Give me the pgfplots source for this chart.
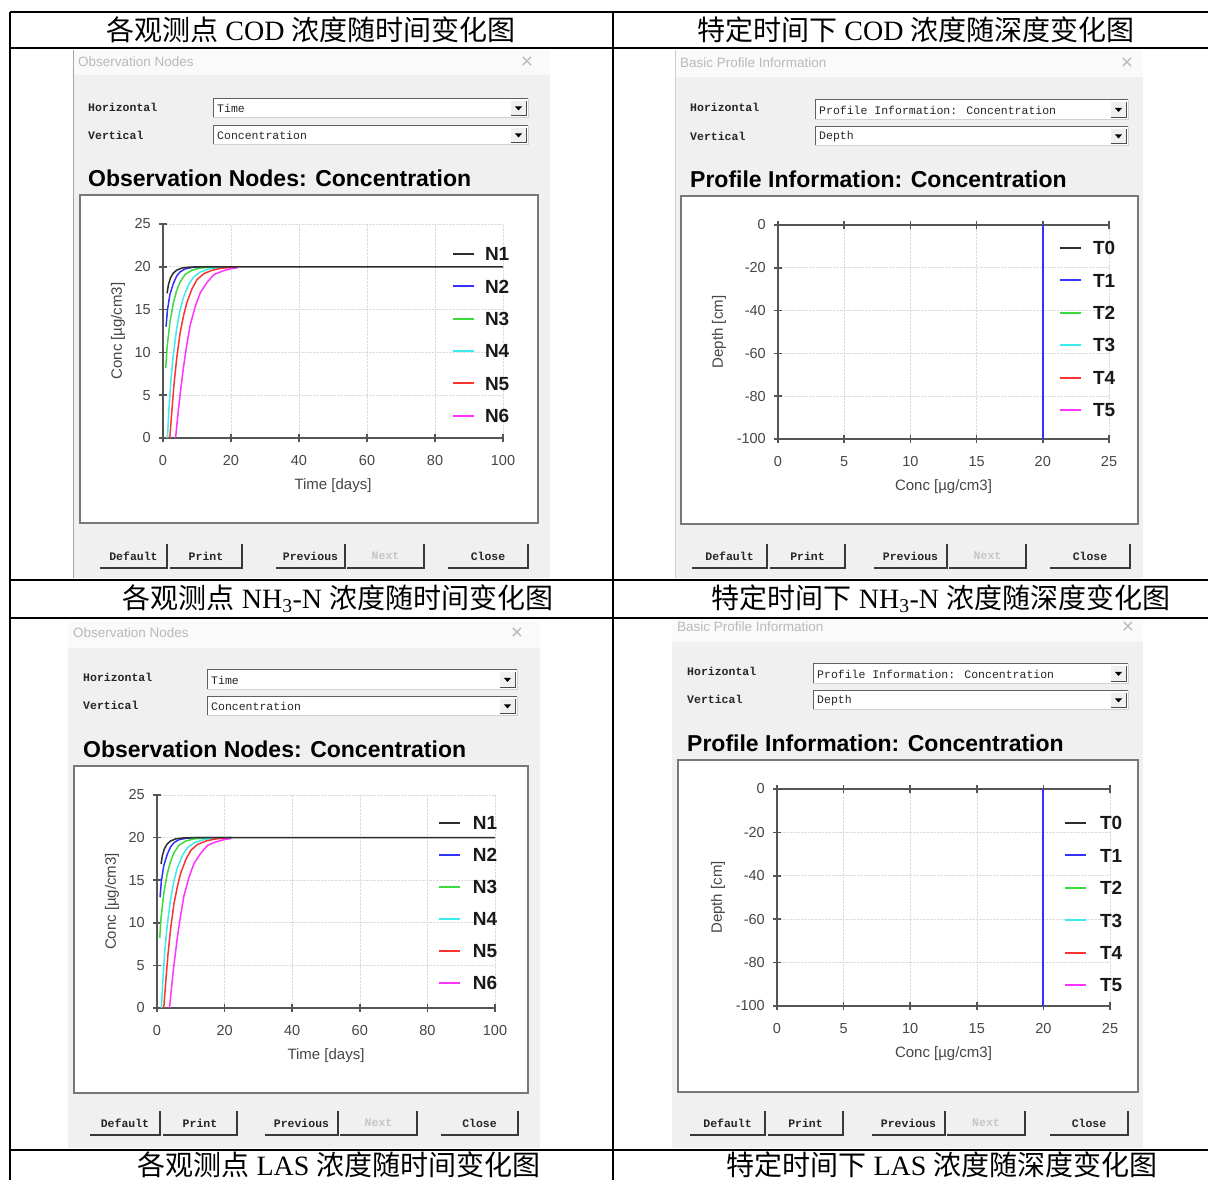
\documentclass[border=0pt]{standalone}
\usepackage{fontspec}
\usepackage{pgfplots}
\usepackage{pgfplotstable}
\pgfplotsset{compat=1.18}
\setmainfont{Liberation Serif}
\newfontfamily\cjk{Noto Sans CJK SC}
\newfontfamily\arial{Liberation Sans}
\newfontfamily\mono{Liberation Mono}
\newcommand\fs[1]{\fontsize{#1}{#1}\selectfont}

\definecolor{panel}{RGB}{240,240,240}
\definecolor{tbar}{RGB}{250,250,250}
\definecolor{axgray}{RGB}{85,85,85}
\definecolor{tickgray}{RGB}{70,70,70}
\definecolor{boxgray}{RGB}{120,120,120}
\definecolor{cN1}{RGB}{45,45,45}
\definecolor{cN2}{RGB}{50,50,255}
\definecolor{cN3}{RGB}{60,220,60}
\definecolor{cN4}{RGB}{60,235,235}
\definecolor{cN5}{RGB}{255,50,50}
\definecolor{cN6}{RGB}{255,50,255}

% ---------- data: concentration vs time at observation nodes ----------
\pgfplotstableread{
t c
1.2 16.9
1.6 17.9
2.2 18.7
3.0 19.25
4.0 19.6
5.5 19.85
8.0 19.97
12 20
100 20
}\tNa
\pgfplotstableread{
t c
0.9 13.0
1.3 14.9
2.0 16.7
3.0 18.0
4.0 18.9
5.0 19.4
6.5 19.75
8.5 19.92
12 20
22 20
}\tNb
\pgfplotstableread{
t c
0.8 8.2
1.2 10.6
2.0 13.4
3.0 15.7
4.0 17.2
5.0 18.2
6.5 19.1
8.5 19.6
11 19.85
15 19.97
22 20
}\tNc
\pgfplotstableread{
t c
1.3 0
1.7 3.0
2.3 6.6
3.0 9.6
4.0 12.7
5.0 14.9
6.0 16.4
7.5 17.9
9.0 18.8
11 19.4
14 19.8
18 19.95
22 20
}\tNd
\pgfplotstableread{
t c
2.0 0
2.5 2.6
3.2 6.1
4.0 9.2
5.0 12.2
6.0 14.2
7.0 15.8
8.5 17.4
10 18.5
12 19.2
14.5 19.6
17 19.82
20 19.94
22 20
}\tNe
\pgfplotstableread{
t c
3.7 0
4.3 2.4
5.0 5.0
6.0 8.2
7.0 10.9
8.0 13.2
9.5 15.4
11 17.0
13 18.2
15 19.1
17.5 19.5
20 19.78
22 19.9
}\tNf
% ---------- data: profile (concentration vs depth) ----------
\pgfplotstableread{
c d
20 0
20 -100
}\tProf

\pgfplotsset{
  xlab/.style={every axis x label/.style={at={(axis description cs:0.5,0)}, anchor=center, yshift=-48pt,
      font=\arial\fs{15}, text=tickgray}},
  ylab/.style={every axis y label/.style={at={(axis description cs:0,0.5)}, xshift=#1, rotate=90, anchor=center,
      font=\arial\fs{15}, text=tickgray}},
  hyd/.style={
    scale only axis, anchor=south west,
    axis line style={draw=axgray, line width=1.6pt, -},
    tick style={draw=axgray, line width=1.6pt},
    major tick length=8pt, tick align=center,
    grid=major, grid style={densely dotted, gray!28, line width=0.6pt},
    /pgf/number format/assume math mode=true,
    ticklabel style={font=\arial\fs{14.5}, text=tickgray, inner sep=0pt},
    xticklabel style={yshift=-13pt},
    yticklabel style={xshift=-8pt},
    legend image code/.code={\draw[##1, line width=2pt] (0pt,0pt) -- (21pt,0pt);},
    legend cell align=left,
    every axis plot/.append style={line width=1.5pt},
  },
  timeax/.style={hyd, xmin=0, xmax=100, ymin=0, ymax=25,
    xtick={0,20,...,100}, ytick={0,5,...,25},
    axis x line*=bottom, axis y line*=left, xtick pos=lower, ytick pos=left,
    xlabel={Time [days]}, ylabel={Conc [µg/cm3]}, xlab, ylab=-45pt},
  profax/.style={hyd, xmin=0, xmax=25, ymin=-100, ymax=0,
    xtick={0,5,...,25}, ytick={-100,-80,...,0},
    axis x line=box, axis y line*=left, ytick pos=left,
    xlabel={Conc [µg/cm3]}, ylabel={Depth [cm]}, xlab, ylab=-59pt},
  leg/.style n args={4}{legend style={at={(#1,#2)}, anchor=north west, draw=none, fill=none,
    inner sep=0pt, outer sep=0pt, row sep=#3, column sep=#4,
    font=\arial\bfseries\fs{19}, text=black!90,
    nodes={inner sep=0pt, text height=13.5pt, text depth=0pt}}},
}

% combo box: x1 y1 x2 y2 text
\newcommand\combo[5]{%
  \fill[white] (#1,#2) rectangle (#3,#4);
  \draw[gray!75!black, line width=1pt] (#1,#4) -- (#1,#2) -- (#3,#2);
  \draw[gray!35, line width=1pt] (#3,#2) -- (#3,#4) -- (#1,#4);
  \fill[panel] ({#3-17},{#2+2}) rectangle ({#3-2},{#4-2});
  \draw[gray!60!black, line width=1pt] ({#3-17},{#4-2}) -- ({#3-2},{#4-2}) -- ({#3-2},{#2+2});
  \fill[black] ({#3-13},{(#2+#4)/2-2}) -- ({#3-6},{(#2+#4)/2-2}) -- ({#3-9.5},{(#2+#4)/2+2}) -- cycle;
  \node[anchor=west, inner sep=0pt, font=\mono\fs{11.5}, text=black!85] at ({#1+4},{(#2+#4)/2}) {#5};
}
% button: x1 x2 ytop ybot text color
\newcommand\btn[6]{%
  \draw[gray!45!black, line width=1.3pt] (#1,#4) -- (#2,#4) -- (#2,#3);
  \node[inner sep=0pt, font=\mono\bfseries\fs{11.5}, text=#6] at ({(#1+#2)/2},{(#3+#4)/2}) {#5};
}
\newcommand\buttons[7]{%
  \btn{#1}{#2}{#7-12}{#7+12}{Default}{black!85}
  \btn{#2+3}{#3}{#7-12}{#7+12}{Print}{black!85}
  \btn{#4}{#5}{#7-12}{#7+12}{Previous}{black!85}
  \btn{#5+2}{#6}{#7-12}{#7+12}{Next}{gray!45}
}

\begin{document}
\begin{tikzpicture}
\useasboundingbox (0pt,0pt) rectangle (1208pt,1180pt);
\fill[white] (0pt,0pt) rectangle (1208pt,1180pt);

\begin{scope}[x=1pt, y=-1pt, yshift=1180pt]
  % top-left
  \fill[tbar] (73,50) rectangle (550,75);
  \fill[panel] (73,75) rectangle (550,578);
  \draw[gray!70, line width=1pt] (73,50) -- (73,578);
  \node[anchor=west, inner sep=0pt, font=\arial\fs{13.5}, text=gray!55] at (78,62) {Observation Nodes};
  \node[inner sep=0pt, font=\arial\fs{21}, text=gray!55] at (527,63) {×};
  \node[anchor=west, inner sep=0pt, font=\mono\bfseries\fs{11.5}, text=black!85] at (88,107) {Horizontal};
  \node[anchor=west, inner sep=0pt, font=\mono\bfseries\fs{11.5}, text=black!85] at (88,135) {Vertical};
  \combo{213}{99}{528}{118}{Time}
  \combo{213}{126}{528}{145}{Concentration}
  \node[anchor=west, inner sep=0pt, font=\arial\bfseries\fs{23}] at (88,178) {Observation Nodes: Concentration};
  \fill[white] (80,195) rectangle (538,523);
  \draw[boxgray, line width=1.5pt] (80,195) rectangle (538,523);
  \buttons{100}{167}{242}{276}{345}{424}{556}
  \btn{448}{528}{544}{568}{Close}{black!85}

  % top-right
  \fill[tbar] (675,50) rectangle (1143,77);
  \fill[panel] (675,77) rectangle (1143,578);
  \draw[gray!40, line width=0.8pt] (675,50) -- (675,578);
  \node[anchor=west, inner sep=0pt, font=\arial\fs{13.5}, text=gray!55] at (680,63) {Basic Profile Information};
  \node[inner sep=0pt, font=\arial\fs{21}, text=gray!55] at (1127,64) {×};
  \node[anchor=west, inner sep=0pt, font=\mono\bfseries\fs{11.5}, text=black!85] at (690,107) {Horizontal};
  \node[anchor=west, inner sep=0pt, font=\mono\bfseries\fs{11.5}, text=black!85] at (690,136) {Vertical};
  \combo{815}{100}{1128}{120}{Profile Information:  Concentration}
  \combo{815}{127}{1128}{146}{Depth}
  \node[anchor=west, inner sep=0pt, font=\arial\bfseries\fs{23}] at (690,179) {Profile Information:  Concentration};
  \fill[white] (681,196) rectangle (1138,524);
  \draw[boxgray, line width=1.5pt] (681,196) rectangle (1138,524);
  \buttons{692}{767}{845}{874}{947}{1026}{556}
  \btn{1050}{1130}{544}{568}{Close}{black!85}

  % bottom-left
  \fill[tbar] (68,622) rectangle (540,648);
  \fill[panel] (68,648) rectangle (540,1148);
  \node[anchor=west, inner sep=0pt, font=\arial\fs{13.5}, text=gray!55] at (73,633) {Observation Nodes};
  \node[inner sep=0pt, font=\arial\fs{21}, text=gray!55] at (517,634) {×};
  \node[anchor=west, inner sep=0pt, font=\mono\bfseries\fs{11.5}, text=black!85] at (83,677) {Horizontal};
  \node[anchor=west, inner sep=0pt, font=\mono\bfseries\fs{11.5}, text=black!85] at (83,705) {Vertical};
  \combo{207}{670}{517}{690}{Time}
  \combo{207}{697}{517}{716}{Concentration}
  \node[anchor=west, inner sep=0pt, font=\arial\bfseries\fs{23}] at (83,749) {Observation Nodes: Concentration};
  \fill[white] (74,766) rectangle (528,1093);
  \draw[boxgray, line width=1.5pt] (74,766) rectangle (528,1093);
  \buttons{90}{160}{237}{265}{338}{417}{1123}
  \btn{441}{518}{1111}{1135}{Close}{black!85}

  % bottom-right
  \fill[tbar] (672,620) rectangle (1143,642);
  \fill[panel] (672,642) rectangle (1143,1148);
  \node[anchor=west, inner sep=0pt, font=\arial\fs{13.5}, text=gray!55] at (677,627) {Basic Profile Information};
  \node[inner sep=0pt, font=\arial\fs{21}, text=gray!55] at (1128,628) {×};
  \node[anchor=west, inner sep=0pt, font=\mono\bfseries\fs{11.5}, text=black!85] at (687,671) {Horizontal};
  \node[anchor=west, inner sep=0pt, font=\mono\bfseries\fs{11.5}, text=black!85] at (687,699) {Vertical};
  \combo{813}{664}{1128}{684}{Profile Information:  Concentration}
  \combo{813}{691}{1128}{710}{Depth}
  \node[anchor=west, inner sep=0pt, font=\arial\bfseries\fs{23}] at (687,743) {Profile Information:  Concentration};
  \fill[white] (678,760) rectangle (1138,1092);
  \draw[boxgray, line width=1.5pt] (678,760) rectangle (1138,1092);
  \buttons{690}{765}{843}{872}{945}{1025}{1123}
  \btn{1050}{1128}{1111}{1135}{Close}{black!85}
\end{scope}

% ---------------- top-left: COD vs time ----------------
\begin{axis}[timeax, at={(163pt,742pt)}, width=340pt, height=214pt,
  leg={0.85}{0.891}{18.8pt}{10pt}, legend entries={N1,N2,N3,N4,N5,N6}]
  \addlegendimage{cN1}
  \addlegendimage{cN2}
  \addlegendimage{cN3}
  \addlegendimage{cN4}
  \addlegendimage{cN5}
  \addlegendimage{cN6}
  \addplot[cN2, forget plot] table[x=t, y=c] {\tNb};
  \addplot[cN3, forget plot] table[x=t, y=c] {\tNc};
  \addplot[cN4, forget plot] table[x=t, y=c] {\tNd};
  \addplot[cN5, forget plot] table[x=t, y=c] {\tNe};
  \addplot[cN6, forget plot] table[x=t, y=c] {\tNf};
  \addplot[cN1, forget plot] table[x=t, y=c] {\tNa};
\end{axis}

% ---------------- top-right: COD profile ----------------
\begin{axis}[profax, at={(778pt,741pt)}, width=331pt, height=214pt,
  leg={0.849}{0.924}{18.9pt}{11pt}, legend entries={T0,T1,T2,T3,T4,T5}]
  \addlegendimage{cN1}
  \addlegendimage{cN2}
  \addlegendimage{cN3}
  \addlegendimage{cN4}
  \addlegendimage{cN5}
  \addlegendimage{cN6}
  \addplot[cN1, forget plot] table[x=c, y=d] {\tProf};
  \addplot[cN3, forget plot] table[x=c, y=d] {\tProf};
  \addplot[cN4, forget plot] table[x=c, y=d] {\tProf};
  \addplot[cN5, forget plot] table[x=c, y=d] {\tProf};
  \addplot[cN6, forget plot] table[x=c, y=d] {\tProf};
  \addplot[draw=cN2, line width=2pt, forget plot] table[x=c, y=d] {\tProf};
\end{axis}

% ---------------- bottom-left: NH3-N vs time ----------------
\begin{axis}[timeax, at={(157pt,172pt)}, width=338pt, height=213pt,
  leg={0.831}{0.900}{18.5pt}{12pt}, legend entries={N1,N2,N3,N4,N5,N6}]
  \addlegendimage{cN1}
  \addlegendimage{cN2}
  \addlegendimage{cN3}
  \addlegendimage{cN4}
  \addlegendimage{cN5}
  \addlegendimage{cN6}
  \addplot[cN2, forget plot] table[x=t, y=c] {\tNb};
  \addplot[cN3, forget plot] table[x=t, y=c] {\tNc};
  \addplot[cN4, forget plot] table[x=t, y=c] {\tNd};
  \addplot[cN5, forget plot] table[x=t, y=c] {\tNe};
  \addplot[cN6, forget plot] table[x=t, y=c] {\tNf};
  \addplot[cN1, forget plot] table[x=t, y=c] {\tNa};
\end{axis}

% ---------------- bottom-right: NH3-N profile ----------------
\begin{axis}[profax, at={(777pt,174pt)}, width=333pt, height=217pt,
  leg={0.862}{0.874}{18.9pt}{13pt}, legend entries={T0,T1,T2,T3,T4,T5}]
  \addlegendimage{cN1}
  \addlegendimage{cN2}
  \addlegendimage{cN3}
  \addlegendimage{cN4}
  \addlegendimage{cN5}
  \addlegendimage{cN6}
  \addplot[cN1, forget plot] table[x=c, y=d] {\tProf};
  \addplot[cN3, forget plot] table[x=c, y=d] {\tProf};
  \addplot[cN4, forget plot] table[x=c, y=d] {\tProf};
  \addplot[cN5, forget plot] table[x=c, y=d] {\tProf};
  \addplot[cN6, forget plot] table[x=c, y=d] {\tProf};
  \addplot[draw=cN2, line width=2pt, forget plot] table[x=c, y=d] {\tProf};
\end{axis}

% ---------------- table frame and captions ----------------
\begin{scope}[x=1pt, y=-1pt, yshift=1180pt]
  \draw[black, line width=1.6pt] (10,12) -- (1208,12);
  \draw[black, line width=1.6pt] (10,48) -- (1208,48);
  \draw[black, line width=1.6pt] (10,580) -- (1208,580);
  \draw[black, line width=1.6pt] (10,618) -- (1208,618);
  \draw[black, line width=1.6pt] (10,1150) -- (1208,1150);
  \draw[black, line width=1.6pt] (10,12) -- (10,1180);
  \draw[black, line width=1.6pt] (613,12) -- (613,1180);
  \node[inner sep=0pt, font=\fs{28}] at (311,30) {{\cjk 各观测点} COD {\cjk 浓度随时间变化图}};
  \node[inner sep=0pt, font=\fs{28}] at (916,30) {{\cjk 特定时间下} COD {\cjk 浓度随深度变化图}};
  \node[inner sep=0pt, font=\fs{28}] at (338,599) {{\cjk 各观测点} NH\textsubscript{3}-N {\cjk 浓度随时间变化图}};
  \node[inner sep=0pt, font=\fs{28}] at (941,599) {{\cjk 特定时间下} NH\textsubscript{3}-N {\cjk 浓度随深度变化图}};
  \node[inner sep=0pt, font=\fs{28}] at (339,1165.2) {{\cjk 各观测点} LAS {\cjk 浓度随时间变化图}};
  \node[inner sep=0pt, font=\fs{28}] at (942,1165.2) {{\cjk 特定时间下} LAS {\cjk 浓度随深度变化图}};
\end{scope}
\end{tikzpicture}
\end{document}
